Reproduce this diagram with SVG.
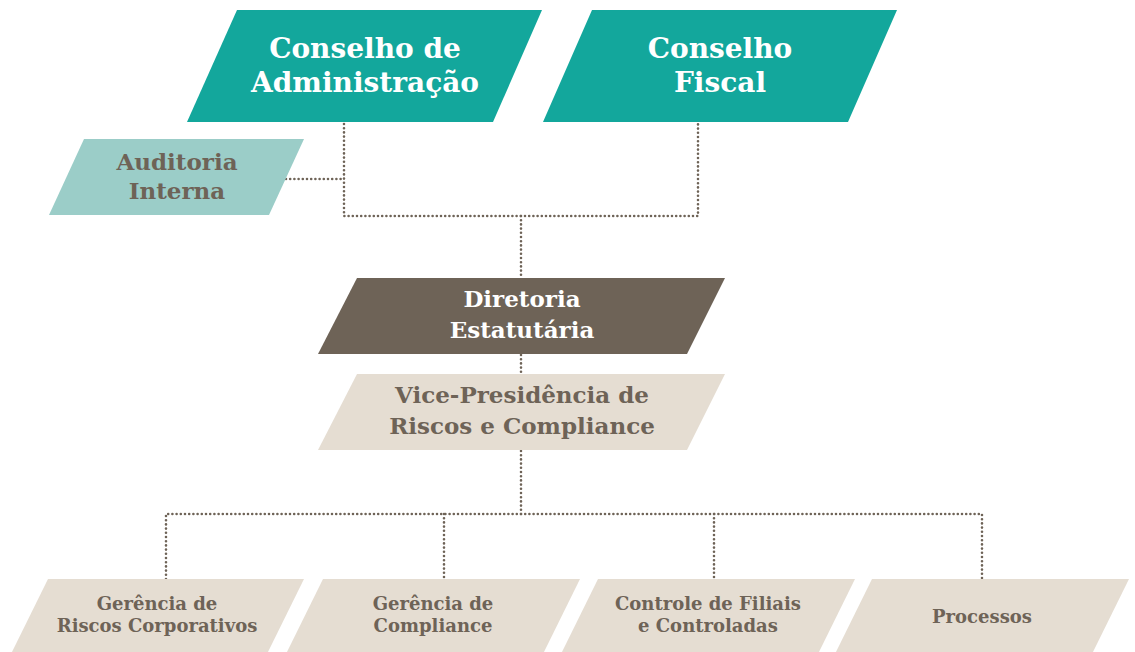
<svg xmlns="http://www.w3.org/2000/svg" width="1135" height="652" viewBox="0 0 1135 652">
<style>
  .t { font-family: "DejaVu Serif", "Liberation Serif", serif; font-weight: bold; text-anchor: middle; }
  .w { fill: #ffffff; font-size: 28px; }
  .b { fill: #6E6357; }
  .m { font-size: 23px; }
  .s { font-size: 18px; }
  .teal { fill: #13A79C; }
  .lteal { fill: #9BCDC8; }
  .brown { fill: #6E6357; }
  .beige { fill: #E5DDD2; }
  .dot { fill: none; stroke: #6E6357; stroke-width: 2.6; stroke-linecap: round; stroke-dasharray: 0 4.2; }
</style>
<rect width="1135" height="652" fill="#ffffff"/>
<g id="connectors">
  <path class="dot" d="M344 124 V216 H698 V124"/>
  <path class="dot" d="M286 179 H344"/>
  <path class="dot" d="M521 216 V278"/>
  <path class="dot" d="M521 355 V374"/>
  <path class="dot" d="M521 451 V514"/>
  <path class="dot" d="M166 579 V514 H982 V579"/>
  <path class="dot" d="M444 514 V579"/>
  <path class="dot" d="M714 514 V579"/>
</g>
<g id="conselho-administracao">
  <polygon class="teal" points="237,10 542,10 493,122 187,122"/>
  <text class="t w" x="365" y="58">Conselho de</text>
  <text class="t w" x="365" y="92">Administração</text>
</g>
<g id="conselho-fiscal">
  <polygon class="teal" points="592,10 897,10 848,122 543,122"/>
  <text class="t w" x="720" y="58">Conselho</text>
  <text class="t w" x="720" y="92">Fiscal</text>
</g>
<g id="auditoria-interna">
  <polygon class="lteal" points="84,139 304,139 269,215 49,215"/>
  <text class="t b m" x="177" y="170">Auditoria</text>
  <text class="t b m" x="177" y="199">Interna</text>
</g>
<g id="diretoria-estatutaria">
  <polygon class="brown" points="357,278 725,278 687,354 318,354"/>
  <text class="t m" fill="#ffffff" x="522" y="307">Diretoria</text>
  <text class="t m" fill="#ffffff" x="522" y="338">Estatutária</text>
</g>
<g id="vice-presidencia">
  <polygon class="beige" points="357,374 725,374 687,450 318,450"/>
  <text class="t b m" x="522" y="403">Vice-Presidência de</text>
  <text class="t b m" x="522" y="434">Riscos e Compliance</text>
</g>
<g id="gerencia-riscos">
  <polygon class="beige" points="48,579 304,579 266,656 10,656"/>
  <text class="t b s" x="157" y="610">Gerência de</text>
  <text class="t b s" x="157" y="632">Riscos Corporativos</text>
</g>
<g id="gerencia-compliance">
  <polygon class="beige" points="323,579 580,579 542,656 285,656"/>
  <text class="t b s" x="433" y="610">Gerência de</text>
  <text class="t b s" x="433" y="632">Compliance</text>
</g>
<g id="controle-filiais">
  <polygon class="beige" points="598,579 855,579 817,656 560,656"/>
  <text class="t b s" x="708" y="610">Controle de Filiais</text>
  <text class="t b s" x="708" y="632">e Controladas</text>
</g>
<g id="processos">
  <polygon class="beige" points="872,579 1129,579 1091,656 834,656"/>
  <text class="t b s" x="982" y="623">Processos</text>
</g>
</svg>
